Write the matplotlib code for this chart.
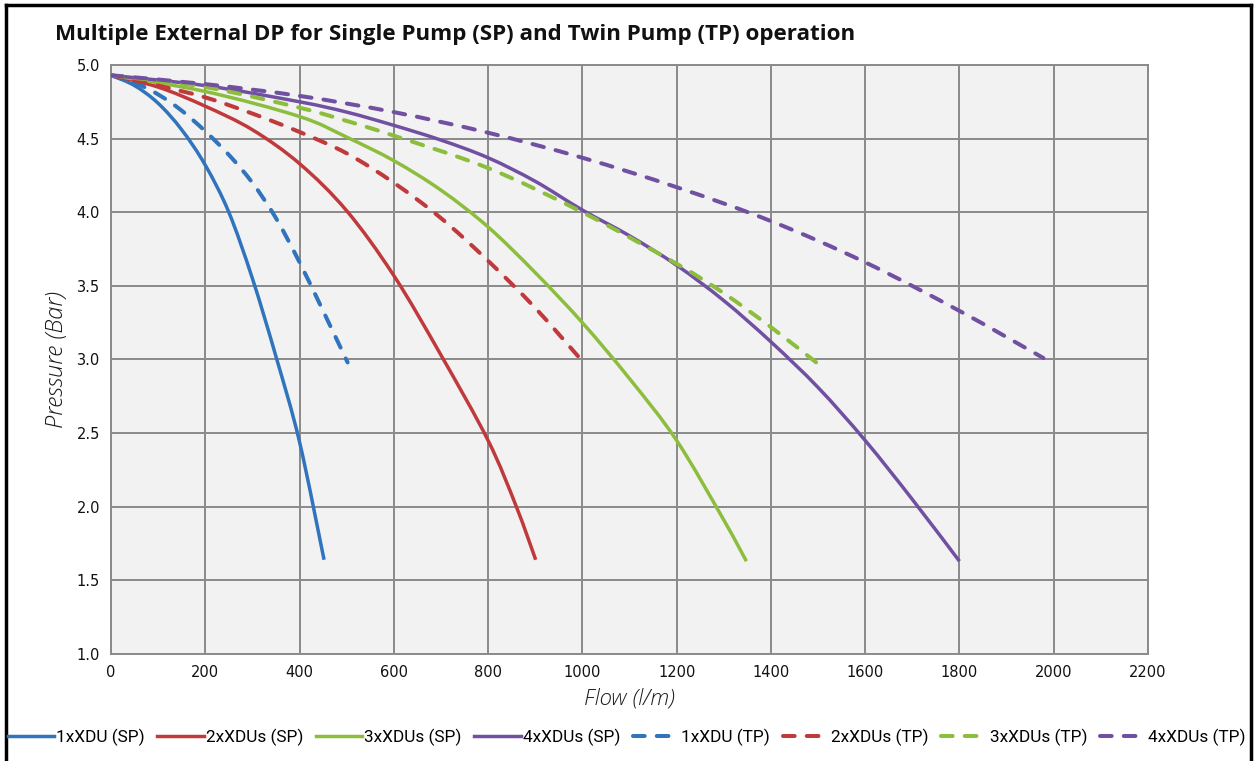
import matplotlib
matplotlib.use("Agg")
import matplotlib.pyplot as plt
from matplotlib.lines import Line2D
from matplotlib.path import Path
from matplotlib.patches import PathPatch

# ---- data (flow l/m, pressure bar) ----
blue_sp_x = [0, 50, 100, 150, 200, 250, 300, 350, 400, 452]
blue_sp_y = [4.93, 4.86, 4.74, 4.56, 4.32, 4.00, 3.55, 3.02, 2.44, 1.64]

red_sp_x = [0, 100, 200, 300, 400, 500, 600, 700, 800, 860, 901]
red_sp_y = [4.93, 4.85, 4.72, 4.56, 4.33, 4.01, 3.57, 3.03, 2.45, 2.00, 1.64]

green_sp_x = [0, 200, 400, 500, 600, 700, 800, 900, 1000, 1100, 1200, 1300, 1348]
green_sp_y = [4.93, 4.82, 4.65, 4.51, 4.35, 4.15, 3.90, 3.59, 3.25, 2.87, 2.45, 1.91, 1.63]

purple_sp_x = [0, 200, 400, 500, 600, 700, 800, 900, 1000, 1100, 1200, 1300, 1400,
               1500, 1600, 1700, 1800]
purple_sp_y = [4.93, 4.86, 4.75, 4.68, 4.59, 4.49, 4.37, 4.21, 4.015, 3.84, 3.64, 3.40,
               3.12, 2.81, 2.45, 2.05, 1.63]

blue_tp_x = [0, 50, 100, 150, 200, 250, 300, 350, 400, 450, 502]
blue_tp_y = [4.93, 4.88, 4.80, 4.69, 4.55, 4.39, 4.20, 3.96, 3.66, 3.33, 2.98]

red_tp_x = [0, 100, 200, 300, 400, 500, 600, 700, 800, 900, 1001]
red_tp_y = [4.93, 4.86, 4.78, 4.67, 4.545, 4.40, 4.20, 3.96, 3.67, 3.35, 2.985]

green_tp_x = [0, 200, 400, 500, 600, 800, 1000, 1200, 1300, 1400, 1500]
green_tp_y = [4.93, 4.85, 4.71, 4.62, 4.52, 4.30, 4.00, 3.65, 3.45, 3.22, 2.97]

purple_tp_x = [0, 200, 400, 600, 800, 1000, 1200, 1400, 1600, 1800, 1978]
purple_tp_y = [4.93, 4.87, 4.79, 4.68, 4.54, 4.37, 4.17, 3.94, 3.66, 3.33, 3.01]

labels = ["1xXDU (SP)", "2xXDUs (SP)", "3xXDUs (SP)", "4xXDUs (SP)",
          "1xXDU (TP)", "2xXDUs (TP)", "3xXDUs (TP)", "4xXDUs (TP)"]
x_ticks = [0, 200, 400, 600, 800, 1000, 1200, 1400, 1600, 1800, 2000, 2200]
y_ticks = [1.0, 1.5, 2.0, 2.5, 3.0, 3.5, 4.0, 4.5, 5.0]

title = "Multiple External DP for Single Pump (SP) and Twin Pump (TP) operation"
xlabel = "Flow (l/m)"
ylabel = "Pressure (Bar)"

colors = ["#2f74bd", "#c0393b", "#8cbd3d", "#7150a2"]


def smooth_path(xs, ys):
    """Excel-style smoothed line: cubic Bezier segments through the points."""
    pts = list(zip(xs, ys))
    n = len(pts)
    verts = [pts[0]]
    codes = [Path.MOVETO]
    for i in range(n - 1):
        p0 = pts[i - 1] if i > 0 else pts[i]
        p1 = pts[i]
        p2 = pts[i + 1]
        p3 = pts[i + 2] if i + 2 < n else pts[i + 1]
        c1 = (p1[0] + (p2[0] - p0[0]) / 6.0, p1[1] + (p2[1] - p0[1]) / 6.0)
        c2 = (p2[0] - (p3[0] - p1[0]) / 6.0, p2[1] - (p3[1] - p1[1]) / 6.0)
        verts += [c1, c2, p2]
        codes += [Path.CURVE4, Path.CURVE4, Path.CURVE4]
    return Path(verts, codes)


fig = plt.figure(figsize=(12.57, 7.61), dpi=100)
ax = fig.add_axes([0.0883, 0.1406, 0.825, 0.774])
ax.set_facecolor("#f2f2f2")

series_sp = [(blue_sp_x, blue_sp_y), (red_sp_x, red_sp_y),
             (green_sp_x, green_sp_y), (purple_sp_x, purple_sp_y)]
series_tp = [(blue_tp_x, blue_tp_y), (red_tp_x, red_tp_y),
             (green_tp_x, green_tp_y), (purple_tp_x, purple_tp_y)]

lw_solid = 2.5
lw_dash = 2.9
dash = (0, (2.9, 3.0))
handles = []
for i, (x, y) in enumerate(series_sp):
    pp = PathPatch(smooth_path(x, y), fill=False, edgecolor=colors[i], lw=lw_solid,
                   capstyle="butt", joinstyle="round", zorder=3)
    ax.add_patch(pp)
    handles.append(Line2D([], [], color=colors[i], lw=lw_solid))
for i, (x, y) in enumerate(series_tp):
    pp = PathPatch(smooth_path(x, y), fill=False, edgecolor=colors[i], lw=lw_dash,
                   linestyle=dash, capstyle="round", joinstyle="round", zorder=3)
    ax.add_patch(pp)
    handles.append(Line2D([], [], color=colors[i], lw=lw_dash, linestyle=dash,
                          dash_capstyle="round"))

ax.set_xlim(0, 2200)
ax.set_ylim(1.0, 5.0)
ax.set_xticks(x_ticks)
ax.set_yticks(y_ticks)
ax.set_xticklabels([str(v) for v in x_ticks])
ax.set_yticklabels([f"{v:.1f}" for v in y_ticks])
ax.tick_params(length=0, labelsize=10.5, pad=8, colors="#111111")
ax.grid(True, color="#8a8a8a", lw=1.4, zorder=1)
ax.set_axisbelow(True)
for s in ax.spines.values():
    s.set_color("#8a8a8a")
    s.set_linewidth(1.4)

ax.set_xlabel(xlabel, fontsize=16, style="italic", family="Open Sans",
              fontweight="light", labelpad=5, color="#1a1a1a")
ax.set_ylabel(ylabel, fontsize=17, style="italic", family="Open Sans",
              fontweight="light", labelpad=5, color="#1a1a1a")

fig.text(0.044, 0.955, title, fontsize=16.1, fontweight="bold", family="Open Sans",
         ha="left", va="center", color="#111111")

leg = fig.legend(handles=handles, labels=labels, loc="center",
                 bbox_to_anchor=(0.4985, 0.031),
                 ncol=8, frameon=False, handlelength=2.7,
                 handletextpad=0.1, columnspacing=0.75,
                 prop={"family": "Roboto", "size": 12.4})

# figure border (left, top, right)
for xs, ys in [([0.0045, 0.0045], [0.0, 0.9935]),
               ([0.0045, 0.9955], [0.9935, 0.9935]),
               ([0.9955, 0.9955], [0.0, 0.9935])]:
    fig.add_artist(Line2D(xs, ys, color="black", lw=2.5, transform=fig.transFigure))

fig.savefig("out.png", dpi=100, facecolor="white")
